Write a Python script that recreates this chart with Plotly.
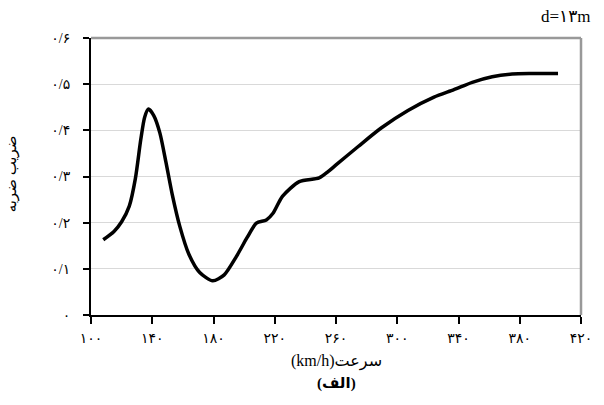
import plotly.graph_objects as go

# speed (km/h) and impact factor
speed = [108, 115, 120, 125, 129, 132.5, 135, 137.5, 141, 145, 149, 153, 158, 164, 171,
         179.5, 187, 195, 202, 208, 214.5, 219, 225, 236, 249, 255, 260, 274.5, 289.5,
         307, 324, 337, 349, 362, 375, 388, 405]
impact = [0.163, 0.181, 0.202, 0.236, 0.296, 0.380, 0.428, 0.446, 0.432, 0.394, 0.330,
          0.262, 0.192, 0.131, 0.092, 0.074, 0.087, 0.127, 0.168, 0.199, 0.206, 0.221,
          0.257, 0.289, 0.297, 0.311, 0.325, 0.365, 0.405, 0.443, 0.472, 0.488, 0.504,
          0.516, 0.522, 0.523, 0.523]

x_ticks = [100, 140, 180, 220, 260, 300, 340, 380, 420]
x_labels = ["۱۰۰", "۱۴۰", "۱۸۰", "۲۲۰", "۲۶۰", "۳۰۰", "۳۴۰", "۳۸۰", "۴۲۰"]
y_ticks = [0, 0.1, 0.2, 0.3, 0.4, 0.5, 0.6]
y_labels = ["۰", "۰/۱", "۰/۲", "۰/۳", "۰/۴", "۰/۵", "۰/۶"]

FONT = "Times New Roman, Liberation Serif, DejaVu Sans, serif"

fig = go.Figure()
fig.add_trace(go.Scatter(
    x=speed, y=impact, mode="lines",
    line=dict(color="black", width=3.5, shape="spline", smoothing=0.7),
    hoverinfo="skip", showlegend=False,
))

fig.update_layout(
    width=604, height=405,
    margin=dict(l=91, r=17, t=38, b=90),
    paper_bgcolor="white", plot_bgcolor="white",
    font=dict(family=FONT, color="black", size=13),
    xaxis=dict(
        range=[100, 420], tickvals=x_ticks, ticktext=x_labels,
        showline=True, linecolor="black", linewidth=2,
        ticks="outside", ticklen=7, tickwidth=1.5, tickcolor="black",
        showgrid=False, zeroline=False, ticklabelstandoff=2,
        tickfont=dict(size=14),
    ),
    yaxis=dict(
        range=[0, 0.6], tickvals=y_ticks, ticktext=y_labels,
        showline=True, linecolor="black", linewidth=2,
        ticks="outside", ticklen=6, tickwidth=1.5, tickcolor="black",
        showgrid=True, gridcolor="#d9d9d9", gridwidth=1, zeroline=False,
        ticklabelstandoff=10, tickfont=dict(size=14),
    ),
    shapes=[
        dict(type="line", xref="paper", yref="paper", x0=0, x1=1, y0=1, y1=1,
             line=dict(color="#999999", width=2.5)),
        dict(type="line", xref="paper", yref="paper", x0=1, x1=1, y0=0, y1=1,
             line=dict(color="#999999", width=2.5)),
    ],
    annotations=[
        dict(text="ضریب ضربه", xref="paper", yref="paper", x=-0.162, y=0.51,
             xanchor="center", yanchor="middle",
             textangle=-90, showarrow=False, font=dict(size=15)),
        dict(text="(km/h)سرعت", xref="paper", yref="paper", x=0.5, y=-0.168,
             xanchor="center", yanchor="middle", showarrow=False, font=dict(size=16)),
        dict(text="<b>(الف)</b>", xref="paper", yref="paper", x=0.5, y=-0.248,
             xanchor="center", yanchor="middle", showarrow=False, font=dict(size=15)),
        dict(text="d=۱۳m", xref="paper", yref="paper", x=1.025, y=1.076,
             xanchor="right", yanchor="middle", showarrow=False, font=dict(size=17)),
    ],
)

fig.write_html("out.html")
